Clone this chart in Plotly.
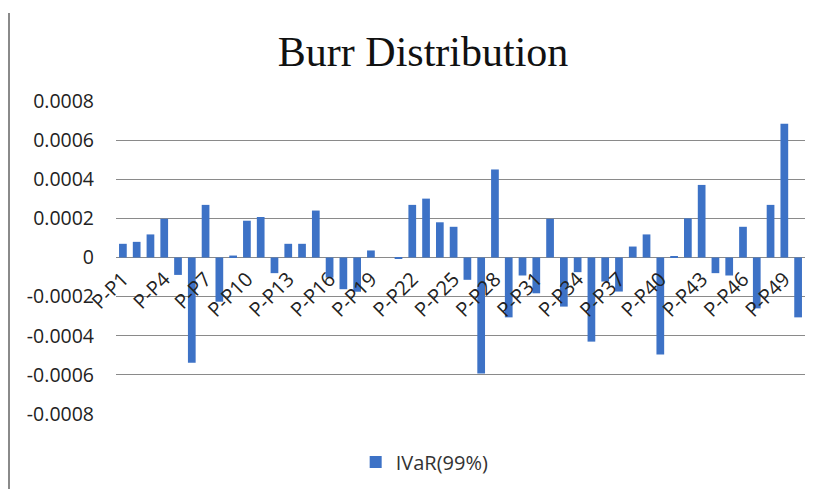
import plotly.graph_objects as go

categories = ["P-P1", "P-P2", "P-P3", "P-P4", "P-P5", "P-P6", "P-P7", "P-P8", "P-P9", "P-P10",
              "P-P11", "P-P12", "P-P13", "P-P14", "P-P15", "P-P16", "P-P17", "P-P18", "P-P19", "P-P20",
              "P-P21", "P-P22", "P-P23", "P-P24", "P-P25", "P-P26", "P-P27", "P-P28", "P-P29", "P-P30",
              "P-P31", "P-P32", "P-P33", "P-P34", "P-P35", "P-P36", "P-P37", "P-P38", "P-P39", "P-P40",
              "P-P41", "P-P42", "P-P43", "P-P44", "P-P45", "P-P46", "P-P47", "P-P48", "P-P49", "P-P50"]

ivar_99 = [0.00007, 0.00008, 0.000118, 0.000198, -0.000089, -0.000538, 0.000269, -0.000226, 0.00001, 0.000188,
           0.000207, -0.00008, 0.00007, 0.00007, 0.00024, -0.000103, -0.000162, -0.000175, 0.000036, 0.0,
           -0.000005, 0.000269, 0.000301, 0.00018, 0.000157, -0.000114, -0.000593, 0.00045, -0.000306, -0.000092,
           -0.000183, 0.000198, -0.000251, -0.000075, -0.00043, -0.000123, -0.000174, 0.000056, 0.000118, -0.000496,
           0.000005, 0.0002, 0.000371, -0.00008, -0.000092, 0.000157, -0.00026, 0.000269, 0.000684, -0.000306]

series_name = "IVaR(99%)"
x_tick_labels = categories[::3]
y_tick_values = [0.0008, 0.0006, 0.0004, 0.0002, 0, -0.0002, -0.0004, -0.0006, -0.0008]
y_tick_labels = ["0.0008", "0.0006", "0.0004", "0.0002", "0", "-0.0002", "-0.0004", "-0.0006", "-0.0008"]

fig = go.Figure()
fig.add_trace(go.Bar(
    x=categories, y=ivar_99, name=series_name,
    marker=dict(color="#3D72C6", line=dict(width=0)),
    showlegend=True,
))

fig.update_layout(
    width=822, height=481,
    margin=dict(l=108, r=25, t=93, b=75, autoexpand=False),
    paper_bgcolor="white", plot_bgcolor="white",
    bargap=0.44,
    title=dict(text="Burr Distribution", x=0.505, xanchor="center", y=0.91, yanchor="middle",
               font=dict(family="Liberation Serif", size=42, color="#111111")),
    font=dict(family="Open Sans", color="#222222"),
    xaxis=dict(
        type="category", anchor="free", position=0.5, automargin=False,
        tickmode="array", tickvals=x_tick_labels, ticktext=x_tick_labels,
        tickangle=-45, tickfont=dict(family="Open Sans", size=20, color="#222222"),
        showgrid=False, showline=False, ticks="", ticklen=0, ticklabelstandoff=5,
    ),
    yaxis=dict(
        range=[-0.0008, 0.0008], domain=[0, 1], automargin=False,
        tickmode="array", tickvals=y_tick_values, ticktext=y_tick_labels,
        tickfont=dict(family="Open Sans", size=19.5, color="#222222"),
        showgrid=True, gridcolor="#8a8a8a", gridwidth=1,
        zeroline=True, zerolinecolor="#8a8a8a", zerolinewidth=1,
        showline=False, ticks="", ticklabelstandoff=21,
    ),
    legend=dict(orientation="h", x=0.448, xanchor="center", y=-0.153, yanchor="middle",
                font=dict(family="Open Sans", size=20, color="#333333"),
                bgcolor="rgba(0,0,0,0)"),
    shapes=[dict(type="line", xref="paper", yref="paper",
                 x0=-0.1553, x1=-0.1553, y0=-0.3, y1=1.281,
                 line=dict(color="#8a8a8a", width=2))],
)

fig.write_html("out.html")
